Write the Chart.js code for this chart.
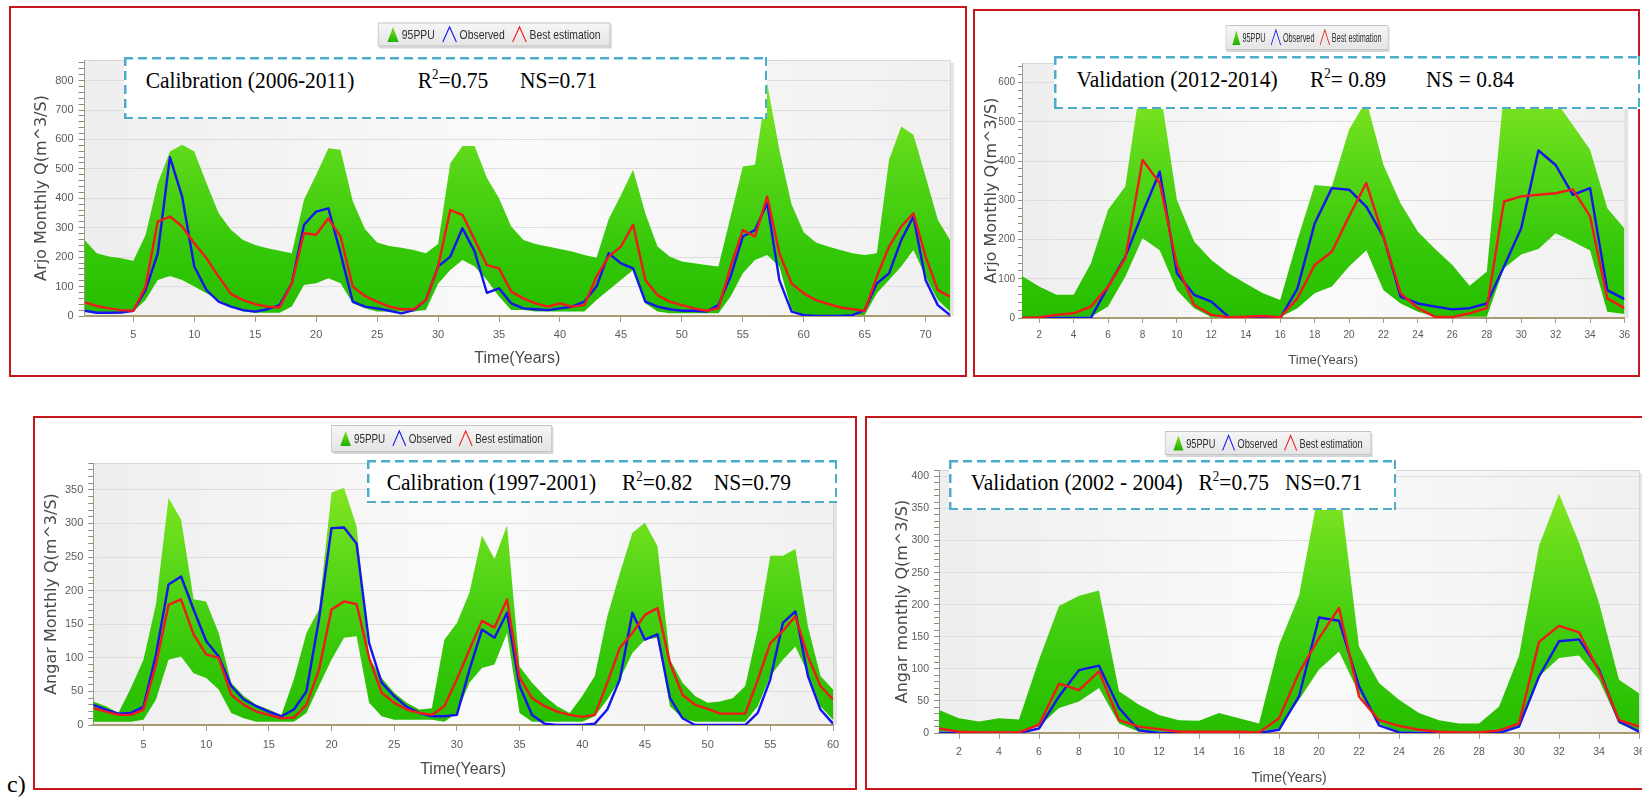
<!DOCTYPE html>
<html lang="en">
<head>
<meta charset="utf-8">
<title>Arjo and Angar monthly flow, 95PPU calibration and validation</title>
<script src="https://cdn.jsdelivr.net/npm/chart.js@4.4.1/dist/chart.umd.min.js"></script>
<style>
  html, body { margin: 0; padding: 0; background: #fff; overflow: hidden; }
  body { position: relative; width: 1642px; height: 798px; }
  .frame { position: absolute; box-sizing: border-box; border: 2px solid #c8161d; }
  canvas { position: absolute; }
  .note {
    position: absolute; box-sizing: border-box; z-index: 2;
    background:
      repeating-linear-gradient(90deg, #4eaccb 0 9px, transparent 9px 14px) 0 0 / 100% 2.5px no-repeat,
      repeating-linear-gradient(90deg, #4eaccb 0 9px, transparent 9px 14px) 0 100% / 100% 2.5px no-repeat,
      repeating-linear-gradient(180deg, #4eaccb 0 9px, transparent 9px 14px) 0 0 / 2.5px 100% no-repeat,
      repeating-linear-gradient(180deg, #4eaccb 0 9px, transparent 9px 14px) 100% 0 / 2.5px 100% no-repeat,
      #fff;
  }
  .note span {
    position: absolute; white-space: nowrap; color: #000;
    font-family: "Liberation Serif", "Times New Roman", serif;
    font-size: 21.5px; line-height: 22px;
    transform: scaleY(1.08); transform-origin: 0 18.3px;
  }
  .note sup { font-size: 13px; vertical-align: 0; position: relative; top: -8px; }
  .tag {
    position: absolute; left: 7px; top: 772px;
    font-family: "Liberation Serif", "Times New Roman", serif;
    font-size: 24px; line-height: 24px; color: #000;
  }
</style>
</head>
<body>

<div class="frame" style="left:9px;top:6px;width:958px;height:371px"></div>
<div class="frame" style="left:973px;top:9px;width:667px;height:368px"></div>
<div class="frame" style="left:33px;top:416px;width:824px;height:374px"></div>
<div class="frame" style="left:865px;top:416px;width:800px;height:374px"></div>

<canvas id="arjoCal"></canvas>
<canvas id="arjoVal"></canvas>
<canvas id="angarCal"></canvas>
<canvas id="angarVal"></canvas>

<div class="note" style="left:124px;top:57px;width:643px;height:62px">
  <span style="left:21.7px;top:13px">Calibration (2006-2011)</span>
  <span style="left:293.7px;top:13px">R<sup>2</sup>=0.75</span>
  <span style="left:396px;top:13px">NS=0.71</span>
</div>
<div class="note" style="left:1054px;top:56px;width:586px;height:53px">
  <span style="left:22.5px;top:13px">Validation (2012-2014)</span>
  <span style="left:256px;top:13px">R<sup>2</sup>= 0.89</span>
  <span style="left:372px;top:13px">NS = 0.84</span>
</div>
<div class="note" style="left:367px;top:460px;width:470px;height:43px">
  <span style="left:19.7px;top:12.4px">Calibration (1997-2001)</span>
  <span style="left:255px;top:12.4px">R<sup>2</sup>=0.82</span>
  <span style="left:346.7px;top:12.4px">NS=0.79</span>
</div>
<div class="note" style="left:949px;top:460px;width:447px;height:50px">
  <span style="left:21.7px;top:12.4px">Validation (2002 - 2004)</span>
  <span style="left:249.5px;top:12.4px">R<sup>2</sup>=0.75</span>
  <span style="left:336px;top:12.4px">NS=0.71</span>
</div>

<div class="tag">c)</div>

<script>
// ---- Arjo, calibration 2006-2011 (72 months)
const arjoCalUpper = [258, 213, 202, 196, 188, 275, 451, 559, 582, 559,
  451, 349, 293, 258, 241, 230, 222, 213, 395, 480,
  570, 565, 390, 296, 250, 238, 232, 224, 213, 245,
  519, 578, 578, 470, 400, 304, 258, 245, 236, 228,
  219, 207, 198, 330, 410, 497, 349, 236, 202, 185,
  179, 173, 168, 338, 508, 514, 791, 565, 380, 285,
  250, 236, 224, 213, 207, 213, 531, 644, 616, 474,
  327, 258];
const arjoCalLower = [15, 9, 9, 9, 15, 54, 122, 136, 122, 100,
  77, 54, 32, 15, 11, 11, 11, 32, 105, 111,
  128, 111, 43, 26, 15, 15, 15, 15, 20, 110,
  156, 190, 168, 122, 66, 20, 20, 15, 15, 15,
  15, 15, 54, 88, 122, 156, 43, 15, 9, 9,
  9, 9, 9, 66, 145, 190, 207, 168, 20, 3,
  3, 3, 3, 3, 3, 77, 122, 168, 224, 134,
  54, 15];
const arjoCalObserved = [18, 11, 11, 12, 18, 88, 213, 540, 406, 168,
  88, 49, 32, 20, 15, 23, 37, 111, 310, 355,
  366, 213, 49, 32, 26, 18, 9, 20, 54, 168,
  202, 298, 219, 79, 94, 43, 26, 23, 20, 26,
  32, 49, 100, 213, 179, 162, 49, 32, 23, 18,
  18, 15, 37, 134, 270, 292, 383, 122, 15, 3,
  0, 0, 0, 3, 20, 111, 145, 258, 338, 122,
  37, 3];
const arjoCalBest = [46, 34, 26, 20, 18, 100, 321, 338, 304, 247,
  196, 134, 75, 54, 40, 32, 29, 111, 281, 276,
  332, 270, 100, 68, 49, 32, 23, 23, 54, 168,
  360, 344, 259, 173, 162, 83, 60, 43, 32, 43,
  32, 37, 134, 202, 236, 310, 122, 71, 49, 37,
  26, 18, 26, 168, 292, 270, 406, 213, 111, 77,
  54, 41, 29, 23, 18, 134, 236, 304, 349, 202,
  88, 66];
const arjoCalXLabels = [5, 10, 15, 20, 25, 30, 35, 40, 45, 50, 55, 60, 65, 70];
const arjoCalYLabels = [0, 100, 200, 300, 400, 500, 600, 700, 800];

// ---- Arjo, validation 2012-2014 (36 months)
const arjoValUpper = [107, 80, 59, 59, 139, 276, 335, 630, 590, 301,
  195, 148, 114, 88, 63, 46, 199, 339, 335, 480,
  555, 390, 292, 220, 176, 135, 82, 118, 580, 600,
  590, 553, 492, 429, 280, 228];
const arjoValLower = [2, 2, 2, 2, 3, 29, 105, 203, 173, 71,
  25, 2, 2, 2, 2, 2, 25, 63, 80, 131,
  173, 71, 37, 16, 3, 3, 3, 3, 127, 162,
  176, 216, 195, 172, 16, 10];
const arjoValObserved = [0, 0, 0, 0, 0, 80, 156, 267, 373, 114,
  59, 42, 3, 0, 0, 0, 75, 241, 331, 327,
  284, 207, 54, 37, 29, 22, 25, 37, 131, 229,
  427, 390, 314, 331, 71, 48];
const arjoValBest = [0, 2, 8, 12, 29, 80, 152, 403, 344, 135,
  33, 8, 2, 3, 5, 2, 50, 135, 169, 259,
  344, 207, 63, 25, 3, 2, 12, 25, 297, 310,
  314, 318, 328, 259, 50, 25];
const arjoValXLabels = [2, 4, 6, 8, 10, 12, 14, 16, 18, 20, 22, 24, 26, 28, 30, 32, 34, 36];
const arjoValYLabels = [0, 100, 200, 300, 400, 500, 600];

// ---- Angar, calibration 1997-2001 (60 months)
const angarCalUpper = [35, 28, 18, 55, 97, 180, 338, 306, 187, 184,
  137, 63, 43, 30, 23, 15, 68, 137, 172, 346,
  353, 296, 100, 70, 48, 33, 23, 25, 127, 152,
  197, 282, 247, 297, 87, 63, 43, 28, 18, 43,
  73, 162, 226, 286, 301, 266, 97, 63, 43, 33,
  35, 40, 58, 142, 252, 252, 262, 147, 73, 53];
const angarCalLower = [5, 5, 5, 5, 8, 38, 97, 102, 77, 70,
  53, 18, 10, 5, 5, 5, 5, 18, 58, 97,
  130, 132, 33, 13, 8, 8, 8, 8, 5, 18,
  63, 85, 90, 137, 18, 5, 5, 5, 5, 5,
  13, 38, 68, 107, 127, 130, 28, 10, 5, 5,
  5, 5, 5, 28, 73, 97, 117, 77, 28, 8];
const angarCalObserved = [30, 23, 17, 18, 27, 105, 209, 221, 172, 125,
  102, 58, 38, 28, 20, 13, 23, 50, 157, 293,
  294, 270, 122, 63, 43, 27, 18, 13, 13, 15,
  82, 142, 130, 167, 58, 15, 2, 0, 0, 0,
  2, 23, 68, 167, 127, 135, 40, 10, 0, 0,
  0, 0, 0, 18, 68, 152, 169, 73, 23, 2];
const angarCalBest = [25, 20, 15, 15, 23, 90, 179, 187, 135, 105,
  100, 45, 30, 20, 15, 10, 11, 30, 82, 172,
  184, 180, 100, 48, 33, 23, 18, 15, 28, 68,
  112, 155, 145, 187, 70, 40, 28, 20, 15, 12,
  15, 63, 115, 137, 164, 174, 92, 45, 30, 24,
  17, 17, 17, 67, 122, 140, 162, 102, 58, 38];
const angarCalXLabels = [5, 10, 15, 20, 25, 30, 35, 40, 45, 50, 55, 60];
const angarCalYLabels = [0, 50, 100, 150, 200, 250, 300, 350];

// ---- Angar, validation 2002-2004 (36 months)
const angarValUpper = [36, 23, 18, 23, 21, 114, 198, 214, 222, 65,
  44, 28, 20, 19, 31, 23, 15, 137, 214, 380,
  390, 135, 78, 52, 31, 20, 15, 15, 41, 120,
  292, 373, 297, 203, 83, 62];
const angarValLower = [2, 2, 2, 2, 2, 10, 39, 49, 70, 15,
  2, 2, 2, 2, 2, 2, 2, 7, 52, 99,
  127, 62, 15, 2, 2, 2, 2, 2, 2, 10,
  88, 117, 121, 83, 15, 2];
const angarValObserved = [0, 0, 0, 0, 0, 7, 57, 98, 105, 39,
  4, 0, 0, 0, 0, 0, 0, 5, 57, 180,
  175, 73, 12, 1, 0, 0, 0, 0, 0, 10,
  88, 143, 146, 99, 18, 2];
const angarValBest = [7, 2, 1, 1, 1, 13, 77, 67, 96, 20,
  10, 6, 2, 2, 2, 2, 1, 23, 94, 148,
  195, 57, 20, 11, 5, 2, 1, 1, 4, 15,
  142, 167, 157, 96, 20, 10];
const angarValXLabels = [2, 4, 6, 8, 10, 12, 14, 16, 18, 20, 22, 24, 26, 28, 30, 32, 34, 36];
const angarValYLabels = [0, 50, 100, 150, 200, 250, 300, 350, 400];

const BLUE = "#1414f0";
const RED = "#f01a1a";
const TICK_GREY = "#5a5a5a";
const AXIS_BROWN = "#a99a72";

// green gradient for the 95PPU band, top of plot is lighter
function bandFill(context) {
  const chart = context.chart;
  const a = chart.chartArea;
  if (!a) return "#33c400";
  const g = chart.ctx.createLinearGradient(0, a.top, 0, a.bottom);
  g.addColorStop(0, "#8fea24");
  g.addColorStop(0.4, "#58d718");
  g.addColorStop(0.75, "#33c708");
  g.addColorStop(1, "#27be00");
  return g;
}

// light grey plot background with a thin frame and right shadow
const plotBg = {
  id: "plotBg",
  beforeDraw(chart) {
    const { ctx, chartArea: a } = chart;
    ctx.save();
    const g = ctx.createLinearGradient(a.left, 0, a.right, 0);
    g.addColorStop(0, "#eeeeee");
    g.addColorStop(0.5, "#fafafa");
    g.addColorStop(1, "#f0f0f0");
    ctx.fillStyle = g;
    ctx.fillRect(a.left, a.top, a.right - a.left, a.bottom - a.top);
    ctx.strokeStyle = "#d6d6d6";
    ctx.lineWidth = 1;
    ctx.beginPath();
    ctx.moveTo(a.left, a.top + 0.5);
    ctx.lineTo(a.right + 0.5, a.top + 0.5);
    ctx.lineTo(a.right + 0.5, a.bottom);
    ctx.stroke();
    ctx.fillStyle = "rgba(0,0,0,0.10)";
    ctx.fillRect(a.right + 1, a.top + 3, 3, a.bottom - a.top - 3);
    ctx.restore();
  },
};

// legend in a grey box: filled triangle for the band, open "^" for lines
const boxLegend = {
  id: "boxLegend",
  afterDraw(chart, args, opts) {
    const { ctx } = chart;
    const items = chart.data.datasets.filter((d) => d.legendIcon);
    ctx.save();
    ctx.font = `${opts.fontSize}px "Liberation Sans", Arial, sans-serif`;
    const widths = items.map((d) => ctx.measureText(d.label).width);
    const iconW = { band: 14, line: 17 };
    let w = opts.pad * 2;
    items.forEach((d, i) => {
      w += iconW[d.legendIcon] + 4 + widths[i];
      if (i < items.length - 1) w += 10;
    });
    const h = opts.height;
    ctx.translate(opts.cx - (w * opts.sx) / 2, opts.top);
    ctx.scale(opts.sx, 1);

    ctx.fillStyle = "rgba(0,0,0,0.16)";
    ctx.fillRect(2, 2, w, h);
    const bg = ctx.createLinearGradient(0, 0, 0, h);
    bg.addColorStop(0, "#f6f6f6");
    bg.addColorStop(1, "#e4e4e4");
    ctx.fillStyle = bg;
    ctx.fillRect(0, 0, w, h);
    ctx.strokeStyle = "#c4c4c4";
    ctx.lineWidth = 1;
    ctx.strokeRect(0.5, 0.5, w - 1, h - 1);

    const mid = h / 2;
    let x = opts.pad;
    items.forEach((d, i) => {
      const iw = iconW[d.legendIcon];
      ctx.beginPath();
      ctx.moveTo(x, mid + 7.5);
      ctx.lineTo(x + iw / 2, mid - 7.5);
      ctx.lineTo(x + iw, mid + 7.5);
      if (d.legendIcon === "band") {
        const tg = ctx.createLinearGradient(0, mid - 7.5, 0, mid + 7.5);
        tg.addColorStop(0, "#7fe01e");
        tg.addColorStop(1, "#1fb000");
        ctx.closePath();
        ctx.fillStyle = tg;
        ctx.fill();
      } else {
        ctx.strokeStyle = d.borderColor;
        ctx.lineWidth = 1.4;
        ctx.stroke();
      }
      x += iw + 4;
      ctx.fillStyle = "#303030";
      ctx.textBaseline = "middle";
      ctx.fillText(d.label, x, mid + 1);
      x += widths[i] + 10;
    });
    ctx.restore();
  },
};

function monthIndex(n) {
  return Array.from({ length: n }, (_, i) => i + 1);
}

function makePanel(p) {
  const cv = document.getElementById(p.id);
  const [cx, cy, cw, ch] = p.canvas;
  cv.width = cw;
  cv.height = ch;
  cv.style.left = cx + "px";
  cv.style.top = cy + "px";

  const padding = {
    left: p.area.left - cx - p.yW,
    top: p.area.top - cy,
    right: cx + cw - p.area.right,
    bottom: cy + ch - p.area.bottom - p.xH,
  };

  const yMajor = new Set(p.yLabels);
  const yTicks = [];
  for (let v = 0; v <= p.yMax; v += p.yMinor) yTicks.push(v);

  const tickFont = { family: "'Liberation Sans', Arial, sans-serif", size: p.tickSize };

  new Chart(cv, {
    type: "line",
    data: {
      labels: monthIndex(p.upper.length),
      datasets: [
        {
          label: "95PPU", legendIcon: "band", data: p.upper,
          borderColor: "rgba(0,0,0,0)", borderWidth: 0, pointRadius: 0,
          fill: 3, backgroundColor: bandFill, order: 3,
        },
        {
          label: "Observed", legendIcon: "line", data: p.observed,
          borderColor: BLUE, borderWidth: 2.4, pointRadius: 0, fill: false, order: 2,
        },
        {
          label: "Best estimation", legendIcon: "line", data: p.best,
          borderColor: RED, borderWidth: 2.4, pointRadius: 0, fill: false, order: 1,
        },
        {
          label: "lower", data: p.lower,
          borderColor: "rgba(0,0,0,0)", borderWidth: 0, pointRadius: 0, fill: false, order: 4,
        },
      ],
    },
    options: {
      responsive: false,
      animation: false,
      devicePixelRatio: 1,
      layout: { padding },
      elements: { line: { tension: 0, borderJoinStyle: "round" } },
      plugins: {
        legend: { display: false },
        tooltip: { enabled: false },
        boxLegend: {
          cx: p.legend.cx - cx, top: p.legend.top - cy, height: p.legend.height,
          sx: p.legend.sx, fontSize: 13, pad: 12,
        },
      },
      scales: {
        x: {
          type: "linear",
          min: 1,
          max: p.upper.length,
          afterBuildTicks: (s) => { s.ticks = p.xLabels.map((v) => ({ value: v })); },
          afterFit: (s) => { s.height = p.xH; },
          ticks: { autoSkip: false, maxRotation: 0, font: tickFont, color: TICK_GREY, padding: p.xTickPad },
          grid: { drawOnChartArea: false, tickLength: p.xTickLen, tickColor: AXIS_BROWN },
          border: { color: AXIS_BROWN, width: 2 },
          title: {
            display: true, text: "Time(Years)", color: "#4a4a4a",
            font: { family: "'Liberation Sans', Arial, sans-serif", size: p.xTitleSize },
            padding: { top: 0, bottom: p.xTitlePad },
          },
        },
        y: {
          min: 0,
          max: p.yMax,
          afterBuildTicks: (s) => { s.ticks = yTicks.map((v) => ({ value: v })); },
          afterFit: (s) => { s.width = p.yW; },
          ticks: {
            autoSkip: false, font: tickFont, color: TICK_GREY, padding: p.yTickPad,
            callback: (v) => (yMajor.has(v) ? String(v) : ""),
          },
          grid: {
            color: (c) => (c.tick && yMajor.has(c.tick.value) && c.tick.value > 0 ? "#dddddd" : "rgba(0,0,0,0)"),
            tickColor: "#8d8d7a",
            tickLength: p.yTickLen,
          },
          border: { color: "#9a9a88", width: 1 },
          title: {
            display: true, text: p.yTitle, color: "#4a4a4a",
            font: { family: "'DejaVu Sans', Verdana, sans-serif", size: 16 },
            padding: { top: p.yTitlePad, bottom: 0 },
          },
        },
      },
    },
    plugins: [plotBg, boxLegend],
  });
}

document.addEventListener("DOMContentLoaded", function () {
  makePanel({
    id: "arjoCal", canvas: [12, 9, 952, 365],
    area: { left: 84.6, right: 950, top: 60, bottom: 316 },
    upper: arjoCalUpper, lower: arjoCalLower, observed: arjoCalObserved, best: arjoCalBest,
    xLabels: arjoCalXLabels, yLabels: arjoCalYLabels, yMax: 870, yMinor: 20,
    yTitle: "Arjo Monthly Q(m^3/S)", yW: 60, yTitlePad: 7.8, yTickLen: 6, yTickPad: 5,
    xH: 55, xTitlePad: 2.4, xTitleSize: 16, xTickLen: 6, xTickPad: 6, tickSize: 11,
    legend: { cx: 494, top: 22.5, height: 24, sx: 0.8 },
  });

  makePanel({
    id: "arjoVal", canvas: [976, 12, 662, 363],
    area: { left: 1022, right: 1624.5, top: 63, bottom: 318 },
    upper: arjoValUpper, lower: arjoValLower, observed: arjoValObserved, best: arjoValBest,
    xLabels: arjoValXLabels, yLabels: arjoValYLabels, yMax: 650, yMinor: 20,
    yTitle: "Arjo Monthly Q(m^3/S)", yW: 40, yTitlePad: 0, yTickLen: 4, yTickPad: 3,
    xH: 54, xTitlePad: 4.2, xTitleSize: 13, xTickLen: 5, xTickPad: 6, tickSize: 10,
    legend: { cx: 1307, top: 25, height: 25, sx: 0.56 },
  });

  makePanel({
    id: "angarCal", canvas: [36, 422, 818, 365],
    area: { left: 93.3, right: 833, top: 463, bottom: 725 },
    upper: angarCalUpper, lower: angarCalLower, observed: angarCalObserved, best: angarCalBest,
    xLabels: angarCalXLabels, yLabels: angarCalYLabels, yMax: 390, yMinor: 10,
    yTitle: "Angar Monthly Q(m^3/S)", yW: 51, yTitlePad: 0, yTickLen: 5, yTickPad: 5,
    xH: 56, xTitlePad: 2.1, xTitleSize: 16, xTickLen: 6, xTickPad: 7, tickSize: 11,
    legend: { cx: 441.5, top: 425, height: 27, sx: 0.76 },
  });

  makePanel({
    id: "angarVal", canvas: [868, 422, 800, 368],
    area: { left: 939, right: 1639, top: 470, bottom: 733 },
    upper: angarValUpper, lower: angarValLower, observed: angarValObserved, best: angarValBest,
    xLabels: angarValXLabels, yLabels: angarValYLabels, yMax: 410, yMinor: 10,
    yTitle: "Angar monthly Q(m^3/S)", yW: 55, yTitlePad: 8.8, yTickLen: 5, yTickPad: 5,
    xH: 55, xTitlePad: 1.3, xTitleSize: 14, xTickLen: 6, xTickPad: 7, tickSize: 10.5,
    legend: { cx: 1268, top: 431, height: 24, sx: 0.71 },
  });
});
</script>
</body>
</html>
